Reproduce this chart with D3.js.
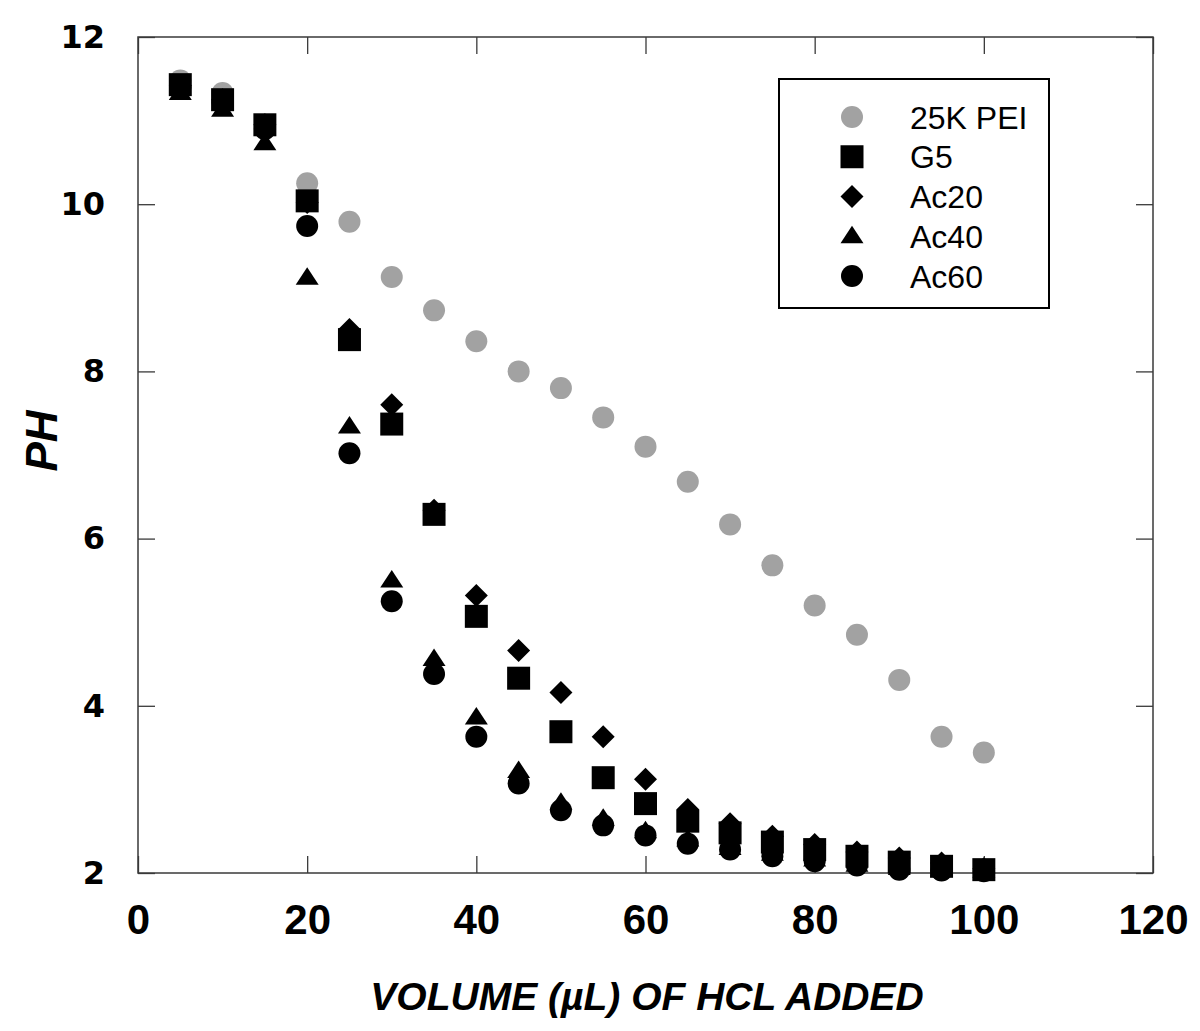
<!DOCTYPE html>
<html>
<head>
<meta charset="utf-8">
<script src="https://cdn.jsdelivr.net/npm/d3@7"></script>
<style>
  body { margin: 0; background: #fff; }
  svg { display: block; }
</style>
</head>
<body>
<div id="chart"></div>
<script>
// volume of HCl added (µL)
var volumes = [5, 10, 15, 20, 25, 30, 35, 40, 45, 50, 55, 60, 65, 70, 75, 80, 85, 90, 95, 100];

// pH readings, one list per polymer
var pei25k = [11.48, 11.33, 10.95, 10.25, 9.79, 9.13, 8.73, 8.36, 8.0, 7.8, 7.45, 7.1, 6.68, 6.17, 5.68, 5.2, 4.85, 4.31, 3.63, 3.44];
var g5     = [11.43, 11.25, 10.95, 10.04, 8.38, 7.37, 6.29, 5.07, 4.33, 3.69, 3.14, 2.83, 2.62, 2.48, 2.37, 2.28, 2.2, 2.13, 2.08, 2.04];
var ac20   = [11.42, 11.25, 10.95, 10.02, 8.5, 7.6, 6.34, 5.32, 4.66, 4.16, 3.63, 3.12, 2.76, 2.59, 2.44, 2.34, 2.25, 2.18, 2.12, 2.05];
var ac40   = [11.33, 11.13, 10.73, 9.12, 7.34, 5.5, 4.56, 3.86, 3.22, 2.84, 2.65, 2.5, 2.4, 2.3, 2.23, 2.16, 2.1, 2.06, 2.04, 2.03];
var ac60   = [11.4, 11.22, 10.9, 9.74, 7.02, 5.25, 4.38, 3.63, 3.07, 2.75, 2.57, 2.45, 2.35, 2.28, 2.2, 2.14, 2.09, 2.04, 2.03, 2.02];

var seriesNames = ["25K PEI", "G5", "Ac20", "Ac40", "Ac60"];
var xTicks = [0, 20, 40, 60, 80, 100, 120];
var yTicks = [2, 4, 6, 8, 10, 12];

// custom symbol shapes (size = width in px)
var shapes = {
    circle: { draw: function (ctx, s) { var r = s / 2; ctx.moveTo(r, 0); ctx.arc(0, 0, r, 0, 2 * Math.PI); } },
    square: { draw: function (ctx, s) { var h = s / 2; ctx.rect(-h, -h, s, s); } },
    diamond: { draw: function (ctx, s) { var h = s / 2; ctx.moveTo(0, -h); ctx.lineTo(h, 0); ctx.lineTo(0, h); ctx.lineTo(-h, 0); ctx.closePath(); } },
    triangle: { draw: function (ctx, s) { var h = s / 2, t = s * 0.76; ctx.moveTo(0, -t * 0.6); ctx.lineTo(h, t * 0.4); ctx.lineTo(-h, t * 0.4); ctx.closePath(); } }
};

var series = [
    {name: seriesNames[0], values: pei25k, shape: shapes.circle, size: 22, color: "#a2a2a2"},
    {name: seriesNames[1], values: g5, shape: shapes.square, size: 23, color: "#000"},
    {name: seriesNames[2], values: ac20, shape: shapes.diamond, size: 23, color: "#000"},
    {name: seriesNames[3], values: ac40, shape: shapes.triangle, size: 23, color: "#000"},
    {name: seriesNames[4], values: ac60, shape: shapes.circle, size: 22, color: "#000"}
];

var W = 1200, H = 1031;
var margin = {top: 37, right: 47, bottom: 158, left: 138};
var w = W - margin.left - margin.right;
var h = H - margin.top - margin.bottom;

var svg = d3.select("#chart").append("svg")
        .attr("width", W)
        .attr("height", H);

var g = svg.append("g")
        .attr("transform", "translate(" + margin.left + "," + margin.top + ")");

var x = d3.scaleLinear().domain([0, 120]).range([0, w]);
var y = d3.scaleLinear().domain([2, 12]).range([h, 0]);

var tickLen = 17;
var axisColor = "#3a3a3a";

// axes with inward ticks on all four sides
function styleAxis(sel) {
    sel.select(".domain").remove();
    sel.selectAll(".tick line").attr("stroke", axisColor).attr("stroke-width", 1.3);
}

g.append("g").attr("transform", "translate(0," + h + ")")
        .call(d3.axisBottom(x).tickValues(xTicks).tickSize(-tickLen).tickPadding(tickLen + 14).tickFormat(d3.format("d")))
        .call(styleAxis)
        .selectAll("text")
        .attr("font-family", "'Liberation Sans Narrow', 'Arial Narrow', sans-serif")
        .attr("font-weight", "bold")
        .attr("font-size", 42)
        .attr("fill", "#000");

g.append("g")
        .call(d3.axisTop(x).tickValues(xTicks).tickSize(-tickLen).tickFormat(""))
        .call(styleAxis);

g.append("g")
        .call(d3.axisLeft(y).tickValues(yTicks).tickSize(-tickLen).tickPadding(tickLen + 16).tickFormat(d3.format("d")))
        .call(styleAxis)
        .selectAll("text")
        .attr("font-family", "'DejaVu Sans', sans-serif")
        .attr("font-weight", "bold")
        .attr("font-size", 32)
        .attr("fill", "#000");

g.append("g").attr("transform", "translate(" + w + ",0)")
        .call(d3.axisRight(y).tickValues(yTicks).tickSize(-tickLen).tickFormat(""))
        .call(styleAxis);

// frame
g.append("rect")
        .attr("width", w)
        .attr("height", h)
        .attr("fill", "none")
        .attr("stroke", axisColor)
        .attr("stroke-width", 1.5);

// markers
series.forEach(function (s) {
    g.append("g").selectAll("path")
            .data(s.values)
            .enter().append("path")
            .attr("transform", function (d, i) {
                return "translate(" + x(volumes[i]) + "," + y(d) + ")";
            })
            .attr("d", d3.symbol().type(s.shape).size(s.size))
            .attr("fill", s.color);
});

// axis titles
svg.append("text")
        .attr("x", 647)
        .attr("y", 1010)
        .attr("text-anchor", "middle")
        .attr("font-family", "'Liberation Sans Narrow', 'Arial Narrow', sans-serif")
        .attr("font-weight", "bold")
        .attr("font-style", "italic")
        .attr("font-size", 39)
        .text("VOLUME (\u00b5L) OF HCL ADDED");

svg.append("text")
        .attr("transform", "translate(57,441) rotate(-90)")
        .attr("text-anchor", "middle")
        .attr("font-family", "'Liberation Sans', Arial, sans-serif")
        .attr("font-weight", "bold")
        .attr("font-style", "italic")
        .attr("font-size", 44)
        .text("PH");

// legend
var legend = svg.append("g").attr("transform", "translate(779,79)");
legend.append("rect")
        .attr("width", 270)
        .attr("height", 229)
        .attr("fill", "#fff")
        .attr("stroke", "#000")
        .attr("stroke-width", 2);

var rowY = d3.scalePoint().domain(seriesNames).range([38, 197]);
var item = legend.selectAll(".item")
        .data(series)
        .enter().append("g")
        .attr("transform", function (d) { return "translate(0," + rowY(d.name) + ")"; });

item.append("path")
        .attr("transform", "translate(73,0)")
        .attr("d", function (d) { return d3.symbol().type(d.shape).size(d.size)(); })
        .attr("fill", function (d) { return d.color; });

item.append("text")
        .attr("x", 131)
        .attr("dy", "0.36em")
        .attr("font-family", "'Liberation Sans', Arial, sans-serif")
        .attr("font-size", 32)
        .text(function (d) { return d.name; });
</script>
</body>
</html>
